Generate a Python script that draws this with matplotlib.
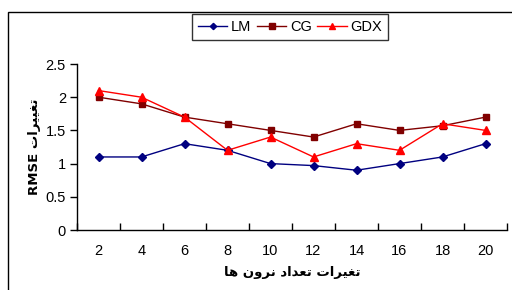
import matplotlib
matplotlib.use("Agg")
import matplotlib.pyplot as plt
from matplotlib.patches import Rectangle
import numpy as np

categories = ["2", "4", "6", "8", "10", "12", "14", "16", "18", "20"]
lm = [1.1, 1.1, 1.3, 1.2, 1.0, 0.97, 0.9, 1.0, 1.1, 1.3]
cg = [2.0, 1.9, 1.7, 1.6, 1.5, 1.4, 1.6, 1.5, 1.57, 1.7]
gdx = [2.1, 2.0, 1.7, 1.2, 1.4, 1.1, 1.3, 1.2, 1.6, 1.5]
series_names = ["LM", "CG", "GDX"]

# Arabic-script labels (visual order, presentation forms)
xlabel = "\uFE8E\uFEEB \uFEE5\uFEED\uFEAE\uFEE7 \uFEA9\uFE8D\uFEAA\uFECC\uFE97 \uFE95\uFE8D\uFEAE\uFEF4\uFED0\uFE97"
ylabel_ar = "\uFE95\uFE8D\uFEAE\uFEF4\uFEF4\uFED0\uFE97"

plt.rcParams['font.family'] = ['Liberation Sans', 'DejaVu Sans']

fig = plt.figure(figsize=(5.12, 2.90), dpi=100)
ax = fig.add_axes([77/512, 1-230/290, 430/512, 166/290])

x = np.arange(len(categories))
ax.plot(x, lm, color='#000080', marker='D', markersize=4, lw=1, label=series_names[0])
ax.plot(x, cg, color='#800000', marker='s', markersize=5, lw=1, label=series_names[1])
ax.plot(x, gdx, color='#FF0000', marker='^', markersize=6, lw=1, label=series_names[2])

ax.set_xlim(-0.5, len(categories) - 0.5)
ax.set_ylim(0, 2.5)
ax.set_yticks([0, 0.5, 1, 1.5, 2, 2.5])
ax.set_yticklabels(["0", "0.5", "1", "1.5", "2", "2.5"], fontsize=10.5)
ax.set_xticks(x)
ax.set_xticklabels(categories, fontsize=10.5)
ax.set_xticks(np.arange(-0.5, len(categories), 1), minor=True)
ax.tick_params(axis='x', which='major', length=0, pad=10)
ax.tick_params(axis='x', which='minor', length=5, direction='in', width=1)
ax.tick_params(axis='y', length=5, direction='out', width=1, pad=3)
ax.spines['top'].set_visible(False)
ax.spines['right'].set_visible(False)
for s in ['left', 'bottom']:
    ax.spines[s].set_linewidth(1)

ax.set_xlabel(xlabel, fontsize=9.5, fontweight='bold', family=['DejaVu Sans'], labelpad=6)
ax.set_ylabel("RMSE " + ylabel_ar, fontsize=9.5, fontweight='bold', family=['DejaVu Sans'], labelpad=3)

leg = ax.legend(loc='upper center', bbox_to_anchor=(290/512, 1-14/290), bbox_transform=fig.transFigure,
                ncol=3, frameon=True, fancybox=False, edgecolor='black', fontsize=10.5,
                handlelength=2.0, columnspacing=0.4, handletextpad=0.25, borderpad=0.4,
                borderaxespad=0, markerscale=0.8)
leg.get_frame().set_linewidth(1)

# outer chart border
fig.add_artist(Rectangle((8/512, -0.1), 1.2, 1 - 12/290 + 0.1, transform=fig.transFigure,
                         fill=False, edgecolor='black', lw=1))

fig.savefig("out.png", dpi=100)
